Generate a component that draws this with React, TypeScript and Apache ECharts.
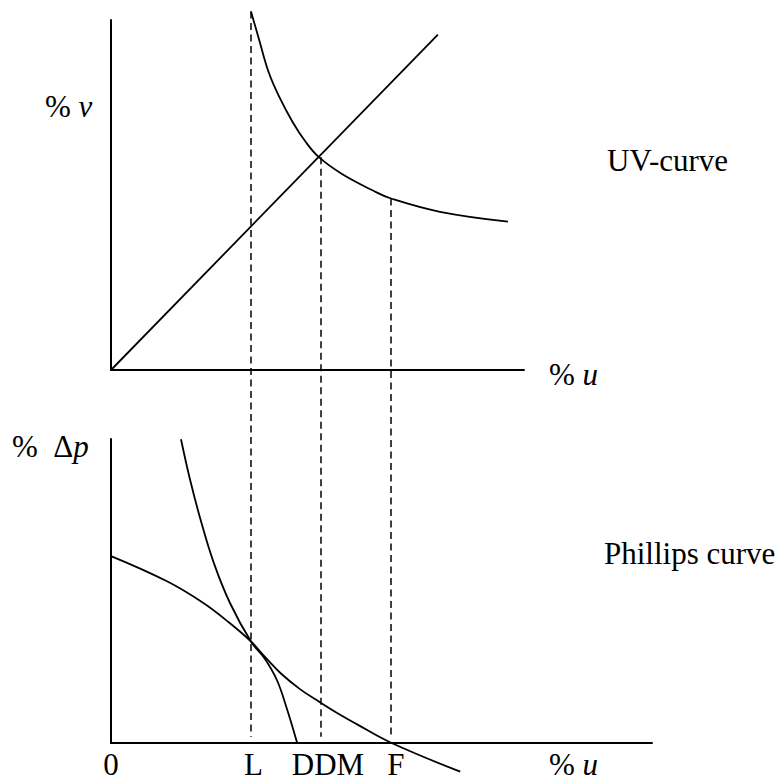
import React, { useEffect, useRef } from "react";
import * as echarts from "echarts";

// ---- data ----
// Top panel: UV-curve (u, v)
const uvCurve: [number, number][] = [
  [2.0, 5.12], [2.11, 4.74], [2.25, 4.26], [2.39, 3.93], [2.59, 3.55],
  [2.78, 3.26], [2.97, 3.04], [3.3, 2.8], [3.75, 2.56], [4.0, 2.45],
  [4.7, 2.26], [5.67, 2.12],
];
// Top panel: line through the origin
const diagonal: [number, number][] = [[0, 0], [4.67, 4.79]];
// Bottom panel: flatter Phillips curve (u, %Δp)
const phillipsFlat: [number, number][] = [
  [0, 2.67], [0.8, 2.31], [1.32, 2.0], [1.7, 1.71], [2.0, 1.45],
  [2.2, 1.23], [2.42, 1.0], [2.7, 0.77], [2.99, 0.58], [3.28, 0.4],
  [3.51, 0.27], [4.01, 0], [4.99, -0.41],
];
// Bottom panel: steep Phillips curve
const phillipsSteep: [number, number][] = [
  [1.0, 4.34], [1.13, 3.76], [1.28, 3.19], [1.47, 2.57], [1.7, 2.0],
  [2.0, 1.45], [2.2, 1.2], [2.37, 0.9], [2.51, 0.5], [2.66, 0],
];
// Vertical dashed guides (u, top v in upper panel), run down to the lower axis
const guideU = [2, 3, 4];
const guideTopV = [5.12, 3.04, 2.45];
const guideBottomV = -5.24;
// Tick labels on the lower u-axis
const tickValues = [0, 2, 3, 4];
const tickLabels = ["0", "L", "DDM", "F"];
const tickStyleKeys = ["z", "l", "d", "f"];

const FONT = '"Liberation Serif", "Times New Roman", serif';
const FS = 31;

export default function App() {
  const ref = useRef<HTMLDivElement>(null);

  useEffect(() => {
    if (!ref.current) return;
    const chart = echarts.init(ref.current, undefined, { renderer: "svg" });

    const black = "#000";
    const curveStyle = { color: black, width: 1.8 };

    const guideSeries = guideU.map((u, i) => ({
      type: "line",
      xAxisIndex: 0,
      yAxisIndex: 0,
      data: [[u, guideTopV[i]], [u, guideBottomV]],
      symbol: "none",
      clip: false,
      silent: true,
      lineStyle: { color: black, width: 1.5, type: [7, 4.5] },
      z: 1,
    }));

    const baseText = { fill: black, fontFamily: FONT, fontSize: FS, lineHeight: 30 };
    const richNI = {
      n: { fontFamily: FONT, fontSize: FS, lineHeight: 30, fill: black },
      i: { fontFamily: FONT, fontSize: FS, lineHeight: 30, fontStyle: "italic", fill: black },
    };
    const richNIb = {
      n: { fontFamily: FONT, fontSize: FS, lineHeight: 26, fill: black },
      i: { fontFamily: FONT, fontSize: FS, lineHeight: 26, fontStyle: "italic", fill: black },
    };
    const tickRich = (pad: number) => ({
      fontFamily: FONT, fontSize: FS, lineHeight: 26, color: black, padding: [0, 0, 0, pad],
    });

    const option: any = {
      animation: false,
      backgroundColor: "#fff",
      grid: [
        { left: 111, top: 20, width: 413, height: 350, containLabel: false },
        { left: 111, top: 439, width: 541, height: 304, containLabel: false },
      ],
      xAxis: [
        {
          type: "value", gridIndex: 0, min: 0, max: 5.9,
          axisLine: { show: true, onZero: false, lineStyle: { color: black, width: 2 } },
          axisTick: { show: false }, axisLabel: { show: false }, splitLine: { show: false },
        },
        {
          type: "value", gridIndex: 1, min: 0, max: 7.73, interval: 1,
          axisLine: { show: true, onZero: false, lineStyle: { color: black, width: 2 } },
          axisTick: { show: false }, splitLine: { show: false },
          axisLabel: {
            show: true,
            margin: 8,
            showMinLabel: true,
            showMaxLabel: false,
            hideOverlap: false,
            color: black,
            fontFamily: FONT,
            fontSize: FS,
            lineHeight: 26,
            formatter: (v: number) => {
              const idx = tickValues.indexOf(Math.round(v * 1000) / 1000);
              return idx >= 0 ? `{${tickStyleKeys[idx]}|${tickLabels[idx]}}` : "";
            },
            rich: {
              z: tickRich(0),
              l: tickRich(5),
              d: tickRich(14),
              f: tickRich(10),
            },
          },
        },
      ],
      yAxis: [
        {
          type: "value", gridIndex: 0, min: 0, max: 5,
          axisLine: { show: true, onZero: false, lineStyle: { color: black, width: 2 } },
          axisTick: { show: false }, axisLabel: { show: false }, splitLine: { show: false },
        },
        {
          type: "value", gridIndex: 1, min: 0, max: 4.343,
          axisLine: { show: true, onZero: false, lineStyle: { color: black, width: 2 } },
          axisTick: { show: false }, axisLabel: { show: false }, splitLine: { show: false },
        },
      ],
      series: [
        ...guideSeries,
        {
          name: "diagonal", type: "line", xAxisIndex: 0, yAxisIndex: 0,
          data: diagonal, symbol: "none", clip: false, lineStyle: curveStyle, z: 2,
        },
        {
          name: "UV-curve", type: "line", xAxisIndex: 0, yAxisIndex: 0,
          data: uvCurve, symbol: "none", smooth: 0.4,
          clip: false, lineStyle: curveStyle, z: 2,
        },
        {
          name: "Phillips flat", type: "line", xAxisIndex: 1, yAxisIndex: 1,
          data: phillipsFlat, symbol: "none", smooth: 0.4,
          clip: false, lineStyle: curveStyle, z: 2,
        },
        {
          name: "Phillips steep", type: "line", xAxisIndex: 1, yAxisIndex: 1,
          data: phillipsSteep, symbol: "none", smooth: 0.4,
          clip: false, lineStyle: curveStyle, z: 2,
        },
      ],
      graphic: [
        { type: "text", x: 45, y: 91.5, style: { text: "{n|%\u00A0}{i|v}", rich: richNI, ...baseText } },
        { type: "text", x: 607, y: 145.5, style: { text: "UV-curve", ...baseText } },
        { type: "text", x: 549, y: 359.5, style: { text: "{n|%\u00A0}{i|u}", rich: richNI, ...baseText } },
        { type: "text", x: 12, y: 431.5, style: { text: "{n|%\u00A0\u00A0\u0394}{i|p}", rich: richNI, ...baseText } },
        { type: "text", x: 604, y: 538.5, style: { text: "Phillips curve", ...baseText } },
        { type: "text", x: 549, y: 751, style: { text: "{n|%\u00A0}{i|u}", rich: richNIb, ...baseText, lineHeight: 26 } },
      ],
    };

    chart.setOption(option);
    return () => chart.dispose();
  }, []);

  return (
    <div
      ref={ref}
      style={{ position: "absolute", left: 0, top: 0, width: 777, height: 782, background: "#fff" }}
    />
  );
}
